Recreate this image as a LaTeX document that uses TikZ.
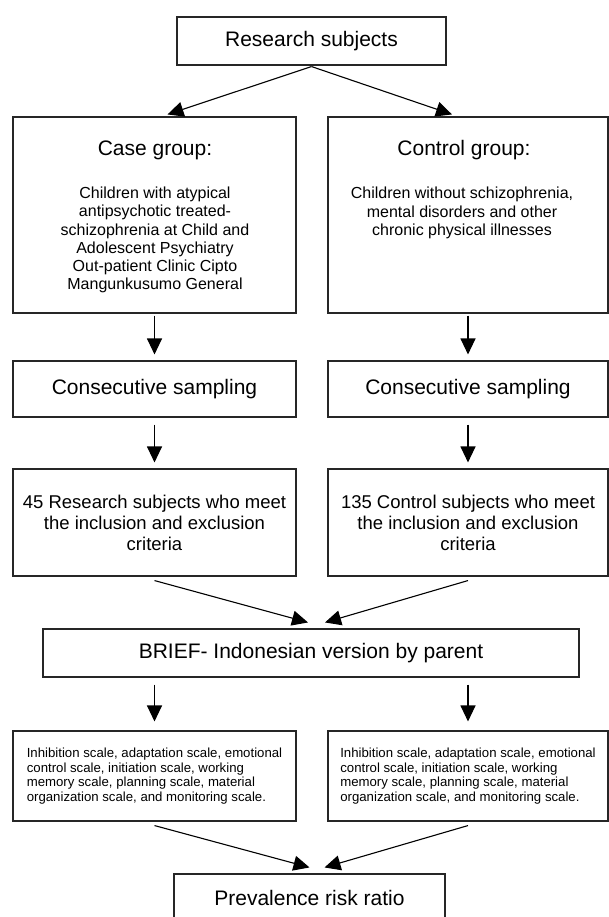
\documentclass[tikz,border=0pt]{standalone}
\usepackage{fontspec}
\setmainfont{Liberation Sans}
\usetikzlibrary{arrows.meta}

\begin{document}
\begin{tikzpicture}[x=1pt,y=-1pt]
\useasboundingbox (0,0) rectangle (609,917);
\begin{scope}[every node/.style={draw=black!85,line width=1.1pt,inner sep=0pt,align=center,
              font=\fontsize{21}{24}\selectfont}]
    \node[minimum width=269pt,minimum height=48pt] (research) at (311.5,41) {Research subjects};
    \node[minimum width=283pt,minimum height=196pt] (caseg) at (154.5,215) {};
    \node[minimum width=280pt,minimum height=196pt] (ctrlg) at (468,215) {};
    \node[minimum width=283pt,minimum height=56pt] (consecl) at (154.5,389) {Consecutive sampling};
    \node[minimum width=280pt,minimum height=56pt] (consecr) at (468,389) {Consecutive sampling};
    \node[minimum width=283pt,minimum height=107pt,font=\fontsize{18.5}{21}\selectfont] (subjl) at (154.5,522.5)
        {45 Research subjects who meet\\the inclusion and exclusion\\criteria};
    \node[minimum width=280pt,minimum height=107pt,font=\fontsize{18.5}{21}\selectfont] (subjr) at (468,522.5)
        {135 Control subjects who meet\\the inclusion and exclusion\\criteria};
    \node[minimum width=536pt,minimum height=48pt] (brief) at (311,653) {BRIEF- Indonesian version by parent};
    \node[minimum width=283pt,minimum height=90pt,align=left,font=\fontsize{13.2}{14.7}\selectfont] (scalel) at (154.5,776)
        {Inhibition scale, adaptation scale, emotional\\control scale, initiation scale, working\\memory scale, planning scale, material\\organization scale, and monitoring scale.};
    \node[minimum width=280pt,minimum height=90pt,align=left,font=\fontsize{13.2}{14.7}\selectfont] (scaler) at (468,776)
        {Inhibition scale, adaptation scale, emotional\\control scale, initiation scale, working\\memory scale, planning scale, material\\organization scale, and monitoring scale.};
    \node[minimum width=271pt,minimum height=48pt] (prev) at (309.5,898) {Prevalence risk ratio};
\end{scope}
\begin{scope}[every node/.style={align=center}]
    \node[font=\fontsize{21}{24}\selectfont] (casetitle) at (155,150) {Case group:};
    \node[font=\fontsize{16}{18.2}\selectfont] (casetext) at (155,240)
        {Children with atypical\\antipsychotic treated-\\schizophrenia at Child and\\Adolescent Psychiatry\\Out-patient Clinic Cipto\\Mangunkusumo General};
    \node[font=\fontsize{21}{24}\selectfont] (ctrltitle) at (464,150) {Control group:};
    \node[font=\fontsize{16}{18.2}\selectfont] (ctrltext) at (462,213)
        {Children without schizophrenia,\\mental disorders and other\\chronic physical illnesses};
\end{scope}

\begin{scope}[>={Triangle[length=16pt,width=15pt]},
              every edge/.style={draw=black,line width=1.1pt}]
    \path [->] ([yshift=-1pt]research.south) edge ([xshift=13pt,yshift=2pt]caseg.north);
    \path [->] ([yshift=-1pt]research.south) edge ([xshift=-16pt,yshift=2pt]ctrlg.north);
    \path [->] (caseg.south) edge[shorten <=2pt,shorten >=6pt] (consecl.north);
    \path [->] (ctrlg.south |- caseg.south) edge[shorten <=2pt,shorten >=6pt] (consecr.north);
    \path [->] (consecl.south) edge[shorten <=7pt,shorten >=6pt] (subjl.north);
    \path [->] (consecr.south) edge[shorten <=7pt,shorten >=6pt] (subjr.north);
    \path [->] ([yshift=-4pt]subjl.south) edge ([xshift=-3pt,yshift=6pt]brief.north);
    \path [->] ([yshift=-4pt]subjr.south) edge ([xshift=14pt,yshift=6pt]brief.north);
    \path [->] (scalel.north |- brief.south) edge[shorten <=7pt,shorten >=9pt] (scalel.north);
    \path [->] (scaler.north |- brief.south) edge[shorten <=7pt,shorten >=9pt] (scaler.north);
    \path [->] ([yshift=-4pt]scalel.south) edge ([xshift=0pt,yshift=6pt]prev.north);
    \path [->] ([yshift=-4pt]scaler.south) edge ([xshift=15pt,yshift=6pt]prev.north);
\end{scope}

\end{tikzpicture}
\end{document}
